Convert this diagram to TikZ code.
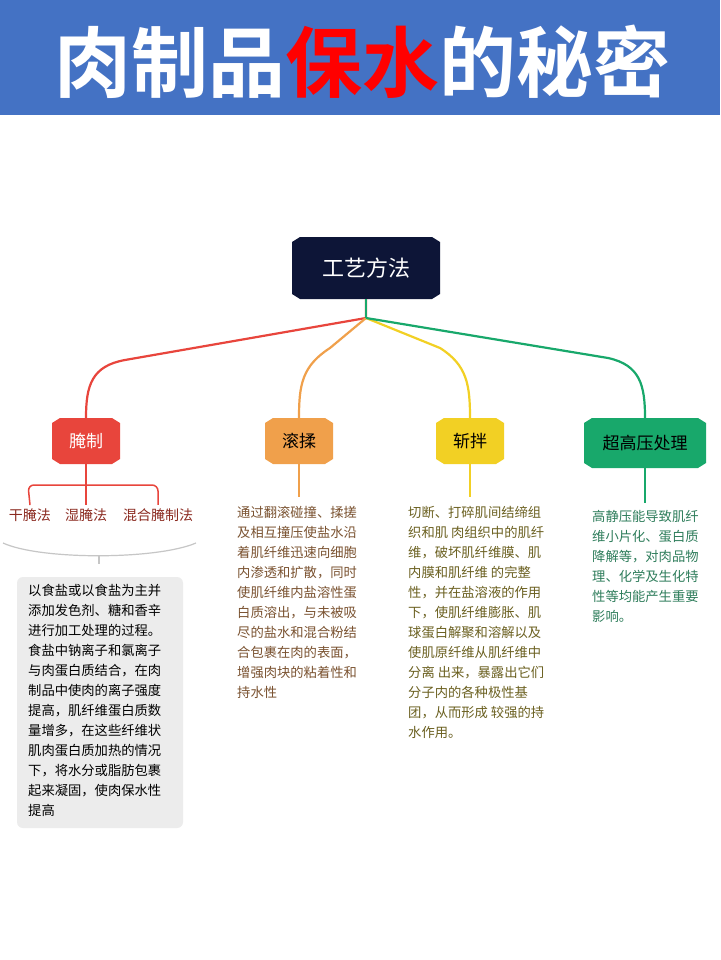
\documentclass[tikz,border=0pt]{standalone}
\usepackage{fontspec}
\setmainfont{Noto Sans CJK SC}
\newfontfamily\boldcjk{Noto Sans CJK SC Bold}
\definecolor{hdr}{HTML}{4472C4}
\definecolor{navy}{HTML}{0D1537}
\definecolor{cred}{HTML}{E8453C}
\definecolor{corange}{HTML}{F0A04B}
\definecolor{cyellow}{HTML}{F2D024}
\definecolor{cgreen}{HTML}{18A86B}
\definecolor{tred}{HTML}{8B2A20}
\definecolor{tbrown}{HTML}{7A5230}
\definecolor{tolive}{HTML}{6B6020}
\definecolor{tgreen}{HTML}{2E7D5B}
\newcommand{\hexbox}[7]{%
 \fill[#6] (#2-#4/2,#3-#5/2+5) -- (#2-#4/2+8,#3-#5/2) -- (#2+#4/2-8,#3-#5/2) -- (#2+#4/2,#3-#5/2+5) -- (#2+#4/2,#3+#5/2-5) -- (#2+#4/2-8,#3+#5/2) -- (#2-#4/2+8,#3+#5/2) -- (#2-#4/2,#3+#5/2-5) -- cycle;
 \node[inner sep=0,minimum width=#4,minimum height=#5] (#1) at (#2,#3) {#7};}
\tikzset{
 body/.style={anchor=north west,align=left,inner sep=0,font=\fontsize{13.3}{20}\selectfont},
 sub/.style={font=\fontsize{14}{16}\selectfont,text=tred},
 br/.style={line width=2.2pt},
}
\begin{document}
\begin{tikzpicture}[x=1pt,y=-1pt]
\useasboundingbox (0,0) rectangle (720,960);
\fill[white] (0,0) rectangle (720,960);
\fill[hdr] (0,0) rectangle (720,115);
\node (title) at (362,62) {\boldcjk\fontsize{77}{80}\selectfont\textcolor{white}{肉制品}\textcolor{red}{保水}\textcolor{white}{的秘密}};
\hexbox{root}{366}{268}{148}{62}{navy}{\textcolor{white}{\fontsize{22}{24}\selectfont 工艺方法}}
\hexbox{a}{86}{441}{68}{46}{cred}{\textcolor{white}{\fontsize{17}{19}\selectfont 腌制}}
\hexbox{b}{299}{441}{68}{46}{corange}{\fontsize{17}{19}\selectfont 滚揉}
\hexbox{c}{470}{441}{68}{46}{cyellow}{\fontsize{17}{19}\selectfont 斩拌}
\hexbox{d}{645}{443}{122}{50}{cgreen}{\fontsize{17}{19}\selectfont 超高压处理}
\coordinate (hub) at (366,318);
\draw[br,cred] (root.south) -- (hub) -- (125,360) .. controls (92,366) and (86,385) .. (a.north);
\draw[br,corange] (hub) -- (330,348) .. controls (302,366) and (299,385) .. (b.north);
\draw[br,cyellow] (hub) -- (440,348) .. controls (467,365) and (470,385) .. (c.north);
\draw[br,cgreen] (hub) -- (608,358) .. controls (640,365) and (645,385) .. (d.north);
\draw[br,cgreen] (root.south) -- (hub);
% salting subs
\node[sub] (s1) at (30,515) {干腌法};
\node[sub] (s2) at (86,515) {湿腌法};
\node[sub] (s3) at (158,515) {混合腌制法};
\draw[cred,line width=1.5pt,rounded corners=6] (a.south) -- (86,485);
\draw[cred,line width=1.5pt,rounded corners=6] (s1.north) -- (28,485) -- (158,485) -- (s3.north);
\draw[cred,line width=1.5pt] (86,485) -- (s2.north);
\draw[gray!45,line width=1.2pt] (3,543) .. controls (40,560) and (156,560) .. (196,543);
\draw[gray!45,line width=1.2pt] (99,556) -- (99,564);
\fill[gray!15] (17,577) [rounded corners=6] rectangle (183,828);
\node[body] (ta) at (28,584) {以食盐或以食盐为主并\\添加发色剂、糖和香辛\\进行加工处理的过程。\\食盐中钠离子和氯离子\\与肉蛋白质结合，在肉\\制品中使肉的离子强度\\提高，肌纤维蛋白质数\\量增多，在这些纤维状\\肌肉蛋白质加热的情况\\下，将水分或脂肪包裹\\起来凝固，使肉保水性\\提高};
\draw[corange,line width=1.5pt] (b.south) -- (299,497);
\node[body,text=tbrown] (tb) at (237,506) {通过翻滚碰撞、揉搓\\及相互撞压使盐水沿\\着肌纤维迅速向细胞\\内渗透和扩散，同时\\使肌纤维内盐溶性蛋\\白质溶出，与未被吸\\尽的盐水和混合粉结\\合包裹在肉的表面，\\增强肉块的粘着性和\\持水性};
\draw[cyellow,line width=1.5pt] (c.south) -- (470,497);
\node[body,text=tolive] (tc) at (408,506) {切断、打碎肌间结缔组\\织和肌 肉组织中的肌纤\\维，破坏肌纤维膜、肌\\内膜和肌纤维 的完整\\性，并在盐溶液的作用\\下，使肌纤维膨胀、肌\\球蛋白解聚和溶解以及\\使肌原纤维从肌纤维中\\分离 出来，暴露出它们\\分子内的各种极性基\\团，从而形成 较强的持\\水作用。};
\draw[cgreen,line width=1.5pt] (d.south) -- (645,503);
\node[body,text=tgreen] (td) at (592,510) {高静压能导致肌纤\\维小片化、蛋白质\\降解等，对肉品物\\理、化学及生化特\\性等均能产生重要\\影响。};
\end{tikzpicture}
\end{document}
